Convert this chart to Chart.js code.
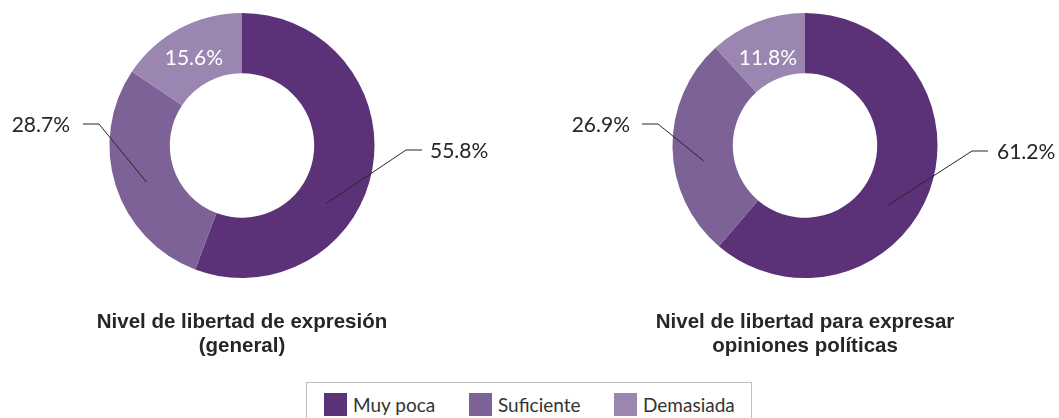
<!DOCTYPE html>
<html>
<head>
<meta charset="utf-8">
<script src="https://cdn.jsdelivr.net/npm/chart.js@4/dist/chart.umd.min.js"></script>
<style>
  body { margin: 0; background: #fff; width: 1059px; height: 418px; overflow: hidden; position: relative; }
  canvas { position: absolute; top: 0; }
  #c1 { left: 0; }
  #c2 { left: 530px; }
  #legend { position: absolute; left: 306px; top: 382px; width: 444px; height: 50px;
    border: 1px solid #bfbfbf; font-family: Lato, sans-serif; font-size: 19px; color: #333; }
  #legend span.item { position: absolute; top: 10px; height: 23px; line-height: 23px; }
  #legend span.box { display: inline-block; width: 23px; height: 23px; vertical-align: top; margin-right: 6px; }
</style>
</head>
<body>
<canvas id="c1" width="530" height="370"></canvas>
<canvas id="c2" width="529" height="370"></canvas>
<div id="legend"></div>
<script>
// categories and values (%)
const categories = ['Muy poca', 'Suficiente', 'Demasiada'];
const generalValues = [55.8, 28.7, 15.6];
const politicalValues = [61.2, 26.9, 11.8];
const titles = [
  ['Nivel de libertad de expresión', '(general)'],
  ['Nivel de libertad para expresar', 'opiniones políticas']
];
const colors = ['#5b3278', '#7c6297', '#9a86b0'];

// leader line plugin: label positions relative to doughnut centre
const leaderLabels = {
  id: 'leaderLabels',
  afterDatasetsDraw(chart, args, opts) {
    const ctx = chart.ctx;
    const meta = chart.getDatasetMeta(0);
    const vals = chart.data.datasets[0].data;
    ctx.save();
    ctx.font = '21px Lato, sans-serif';
    ctx.textBaseline = 'middle';
    meta.data.forEach((arc, i) => {
      const s = opts.specs[i];
      const txt = vals[i].toFixed(1) + '%';
      const p = arc.getProps(['x', 'y', 'startAngle', 'endAngle', 'innerRadius', 'outerRadius'], true);
      if (s.inside) {
        const c = arc.tooltipPosition(true);
        ctx.fillStyle = '#ffffff';
        ctx.textAlign = 'center';
        ctx.fillText(txt, c.x, c.y + s.dy);
        return;
      }
      const a = p.startAngle + s.f * (p.endAngle - p.startAngle);
      const r = (p.innerRadius + p.outerRadius) / 2;
      const x0 = p.x + Math.cos(a) * r, y0 = p.y + Math.sin(a) * r;
      const ex = p.x + s.ex, ey = p.y + s.ey;
      const x2 = ex + s.dir * 16;
      ctx.strokeStyle = '#262626';
      ctx.lineWidth = 1;
      ctx.beginPath();
      ctx.moveTo(x0, y0);
      ctx.lineTo(ex, ey);
      ctx.lineTo(x2, ey);
      ctx.stroke();
      ctx.fillStyle = '#262626';
      ctx.textAlign = s.dir > 0 ? 'left' : 'right';
      ctx.fillText(txt, x2 + s.dir * s.gap, ey + 1);
    });
    ctx.restore();
  }
};

function makeChart(id, values, title, pad, specs) {
  return new Chart(document.getElementById(id), {
    type: 'doughnut',
    data: {
      labels: categories,
      datasets: [{ data: values, backgroundColor: colors, borderWidth: 0 }]
    },
    options: {
      responsive: false,
      animation: false,
      cutout: '54.5%',
      layout: { padding: pad },
      plugins: {
        legend: { display: false },
        tooltip: { enabled: false },
        title: {
          display: true,
          position: 'bottom',
          text: title,
          color: '#262626',
          font: { family: '"Liberation Sans", Arial, sans-serif', size: 20.5, weight: 'bold', lineHeight: 1.17 },
          padding: { top: 32, bottom: 12 }
        },
        leaderLabels: { specs: specs }
      }
    },
    plugins: [leaderLabels]
  });
}

const chart1 = makeChart('c1', generalValues, titles[0], { top: 13, left: 0, right: 46, bottom: 0 }, [
  { f: 0.62, ex: 164, ey: 4.5, dir: 1, gap: 8 },
  { f: 0.47, ex: -143, ey: -21.5, dir: -1, gap: 13 },
  { inside: true, dy: 3 }
]);
makeChart('c2', politicalValues, titles[1], { top: 13, left: 21, right: 0, bottom: 0 }, [
  { f: 0.57, ex: 167, ey: 5.5, dir: 1, gap: 9 },
  { f: 0.42, ex: -147, ey: -21.5, dir: -1, gap: 12 },
  { inside: true, dy: 8 }
]);

// shared legend built from the first chart's legend items
const legend = document.getElementById('legend');
const items = chart1.options.plugins.legend.labels.generateLabels(chart1);
const lefts = [17, 162, 307];
items.forEach((it, i) => {
  const el = document.createElement('span');
  el.className = 'item';
  el.style.left = lefts[i] + 'px';
  el.innerHTML = '<span class="box" style="background:' + it.fillStyle + '"></span>' + it.text;
  legend.appendChild(el);
});
</script>
</body>
</html>
